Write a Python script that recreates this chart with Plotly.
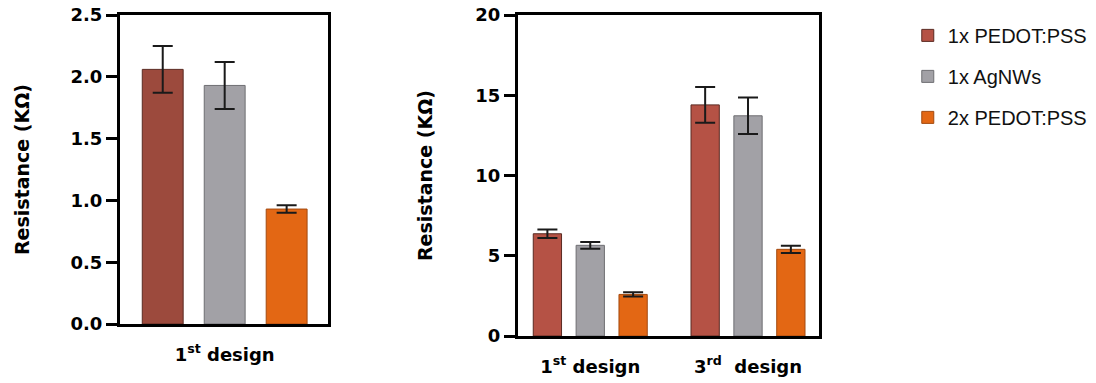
import plotly.graph_objects as go

series = ["1x PEDOT:PSS", "1x AgNWs", "2x PEDOT:PSS"]

# Left panel: 1st design only
left_cats = ["1<sup>st</sup> design"]
left_vals = {"1x PEDOT:PSS": [2.06], "1x AgNWs": [1.93], "2x PEDOT:PSS": [0.93]}
left_errs = {"1x PEDOT:PSS": [0.19], "1x AgNWs": [0.19], "2x PEDOT:PSS": [0.03]}

# Right panel: 1st and 3rd design
right_cats = ["1<sup>st</sup> design", "3<sup>rd</sup>  design"]
right_vals = {"1x PEDOT:PSS": [6.37, 14.40], "1x AgNWs": [5.65, 13.72], "2x PEDOT:PSS": [2.59, 5.40]}
right_errs = {"1x PEDOT:PSS": [0.26, 1.12], "1x AgNWs": [0.21, 1.14], "2x PEDOT:PSS": [0.13, 0.23]}

left_ticks = [0.0, 0.5, 1.0, 1.5, 2.0, 2.5]
right_ticks = [0, 5, 10, 15, 20]

fill_left = {"1x PEDOT:PSS": "#9c4a3d", "1x AgNWs": "#a2a1a6", "2x PEDOT:PSS": "#e36714"}
fill_right = {"1x PEDOT:PSS": "#b55245", "1x AgNWs": "#a2a1a6", "2x PEDOT:PSS": "#e36714"}
edge = {"1x PEDOT:PSS": "#5a2a22", "1x AgNWs": "#6e6e72", "2x PEDOT:PSS": "#a24a10"}

fig = go.Figure()
for s in series:
    fig.add_trace(go.Bar(
        x=left_cats, y=left_vals[s], name=s, showlegend=False,
        marker=dict(color=fill_left[s], line=dict(color=edge[s], width=1)),
        error_y=dict(type="data", array=left_errs[s], color="#1a1a1a", thickness=2, width=10),
        xaxis="x", yaxis="y",
    ))
for i, s in enumerate(series):
    fig.add_trace(go.Bar(
        x=right_cats, y=right_vals[s], name=s, legendgroup=s,
        marker=dict(color=fill_right[s], line=dict(color=edge[s], width=1)),
        error_y=dict(type="data", array=right_errs[s], color="#1a1a1a", thickness=2, width=10),
        xaxis="x2", yaxis="y2",
    ))

# page offset from default body margin
OFF = 8
W, H = 1096 - OFF, 383 - OFF


def fx(px):
    return (px - OFF) / W


def fy(py):
    return 1 - (py - OFF) / H


tickfont = dict(family="DejaVu Sans", size=18, color="black", weight="bold")
titlefont = dict(family="DejaVu Sans", size=19, color="black", weight="bold")

axis_common = dict(showline=True, linewidth=3, linecolor="black", mirror=True,
                   showgrid=False, zeroline=False, automargin=False,
                   ticklabeloverflow="allow")

fig.update_layout(
    template="none",
    width=W, height=H,
    margin=dict(l=0, r=0, t=0, b=0, autoexpand=False),
    paper_bgcolor="white", plot_bgcolor="white",
    barmode="group", bargap=0.185, bargroupgap=0.34,
    xaxis=dict(domain=[fx(120), fx(328)], anchor="y", range=[-0.459, 0.453],
               ticks="", tickfont=tickfont, ticklabelstandoff=12, **axis_common),
    yaxis=dict(domain=[fy(324), fy(15)], anchor="x", range=[0, 2.5],
               tickvals=left_ticks, ticktext=[f"{v:.1f}" for v in left_ticks],
               ticks="outside", ticklen=11, tickwidth=3, tickcolor="black",
               tickfont=tickfont,
               title=dict(text="Resistance (KΩ)", font=titlefont, standoff=36),
               **axis_common),
    xaxis2=dict(domain=[fx(518), fx(819)], anchor="y2", range=[-0.458, 1.45],
                ticks="", tickfont=tickfont, ticklabelstandoff=12, **axis_common),
    yaxis2=dict(domain=[fy(336), fy(15)], anchor="x2", range=[0, 20],
                tickvals=right_ticks, ticktext=[str(v) for v in right_ticks],
                ticks="outside", ticklen=11, tickwidth=3, tickcolor="black",
                tickfont=tickfont,
                title=dict(text="Resistance (KΩ)", font=titlefont, standoff=38),
                **axis_common),
    legend=dict(x=0.827, y=0.979, xanchor="left", yanchor="top",
                font=dict(family="Liberation Sans", size=20, color="#111"),
                tracegroupgap=12, bgcolor="rgba(0,0,0,0)", borderwidth=0),
)

fig.write_html("out.html")
